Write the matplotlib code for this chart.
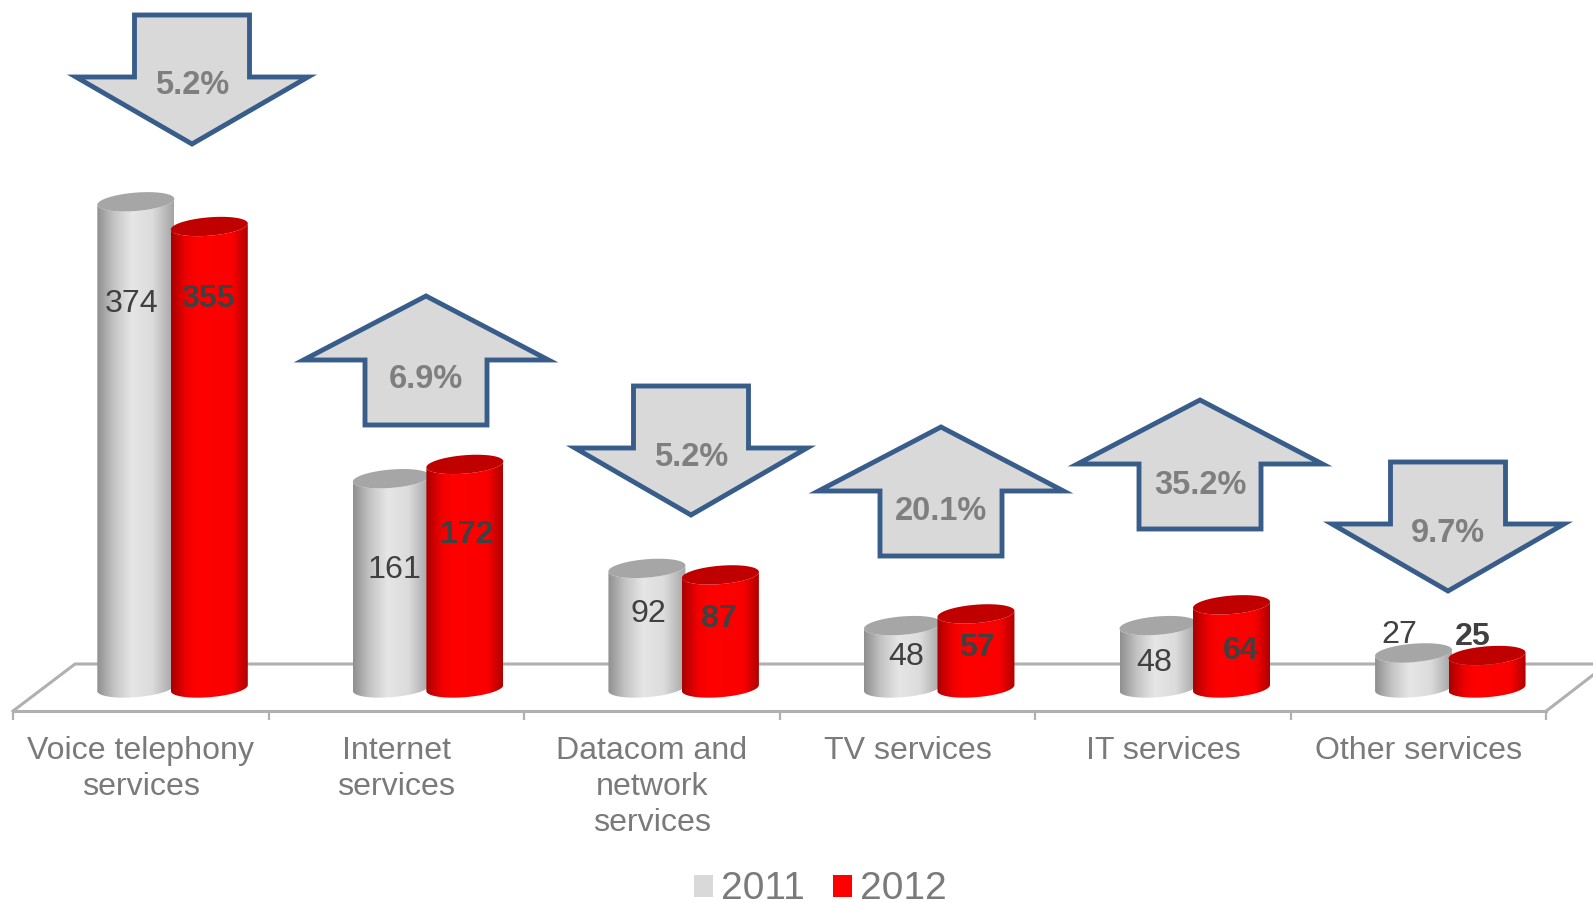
#!/usr/bin/env python3
"""Revenue by service, 2011 vs 2012: fake-3D cylinders with change arrows above them."""
import numpy as np
import matplotlib
matplotlib.use("Agg")
import matplotlib.pyplot as plt
from matplotlib.colors import LinearSegmentedColormap
from matplotlib.patches import Patch, PathPatch, Polygon
from matplotlib.path import Path

OUT = "out.png"
W, H = 1593, 902

categories = ["Voice telephony\nservices", "Internet\nservices", "Datacom and\nnetwork\nservices",
              "TV services", "IT services", "Other services"]
years = ["2011", "2012"]
values_2011 = [374, 161, 92, 48, 48, 27]
values_2012 = [355, 172, 87, 57, 64, 25]
changes = ["5.2%", "6.9%", "5.2%", "20.1%", "35.2%", "9.7%"]
directions = ["down", "up", "down", "up", "up", "down"]

# layout, in reference pixels
PX_PER_CAT = 255.55
PX_PER_UNIT = 1.3
CAT0_X = 140.8
BASE_Y = 688
FLOOR_Y = 711
BACK_Y = 664
HALF_W = 38.5
CAP_B, CAP_TILT = 9.2, 3
ARROW_CX = [192, 426, 691, 941, 1200, 1448]
ARROW_TOP = [15, 296, 386, 427, 400, 462]
ARROW_TXT_Y = [86, 380, 457, 511, 485, 533]
LABEL_XY_2011 = [(132, 304), (394, 570), (648, 614), (906, 657), (1154, 663), (1399, 635)]
LABEL_XY_2012 = [(208, 299), (467, 535), (719, 619), (977, 648), (1241, 651), (1473, 637)]

INK = "#404040"
TICK_INK = "#7a7a7a"
FLOOR = "#b0b0b0"
ARROW_FILL = "#d9d9d9"
ARROW_EDGE = "#385d8a"
GRAY = "#d9d9d9"
RED = "#ff0000"

plt.rcParams["font.family"] = ["Liberation Sans", "DejaVu Sans"]

gray_cm = LinearSegmentedColormap.from_list(
    "g", [(0, "#8f8f8f"), (0.22, "#c4c4c4"), (0.45, "#e6e6e6"), (0.72, "#dcdcdc"), (1, "#a4a4a4")])
red_cm = LinearSegmentedColormap.from_list(
    "r", [(0, "#a80000"), (0.2, "#f00000"), (0.35, "#ff0000"), (0.8, "#fa0000"), (1, "#b00000")])

fig = plt.figure(figsize=(W / 100, H / 100), dpi=100)

# data axes: x in category index, y in value units
ax = fig.add_axes([0, 0, 1, 1], facecolor="none", zorder=1)
# overlay in plain pixels for the annotations
px = fig.add_axes([0, 0, 1, 1], facecolor="none", zorder=2)
px.set_xlim(0, W)
px.set_ylim(H, 0)
px.axis("off")

xlim = (-CAT0_X / PX_PER_CAT, (W - CAT0_X) / PX_PER_CAT)
ylim = ((BASE_Y - H) / PX_PER_UNIT, BASE_Y / PX_PER_UNIT)


def cylinder(cat_x, value, base, cmap, cap):
    """cat_x in category units; base is a value-unit lift of the bottom ellipse."""
    a = HALF_W / PX_PER_CAT
    b = CAP_B / PX_PER_UNIT
    s = CAP_TILT / PX_PER_UNIT
    t = np.linspace(0, 2 * np.pi, 90)
    ex, ey = cat_x + a * np.cos(t), b * np.sin(t) + s * np.cos(t)
    lower = t >= np.pi
    # bottom half of the bottom ellipse, then back along the top of the cap
    bx, by = ex[lower], ey[lower] + base
    tx, ty = ex[lower][::-1], ey[lower][::-1] + value + base
    body = np.column_stack([np.r_[bx, tx], np.r_[by, ty]])
    patch = PathPatch(Path(body, closed=False), fc="none", ec="none", zorder=3)
    ax.add_patch(patch)
    im = ax.imshow(np.linspace(0, 1, 256)[None, :], cmap=cmap, aspect="auto", vmin=0, vmax=1,
                   extent=(cat_x - a, cat_x + a, base - b - s, value + base + b + s), zorder=3)
    im.set_clip_path(patch)
    ax.add_patch(Polygon(np.column_stack([ex, ey + value + base]), fc=cap, ec="none", zorder=3))


for i in range(len(categories)):
    cylinder(i - 5 / PX_PER_CAT, values_2011[i], 0, gray_cm, "#a6a6a6")
    cylinder(i + 68.5 / PX_PER_CAT, values_2012[i], 0, red_cm, "#c00000")

ax.set_xlim(*xlim)
ax.set_ylim(*ylim)

# floor: front edge and ticks come from the x axis, the rest is perspective
for side in ("top", "left", "right"):
    ax.spines[side].set_visible(False)
ax.spines["bottom"].set_position(("data", (BASE_Y - FLOOR_Y) / PX_PER_UNIT))
ax.spines["bottom"].set_bounds(-0.5, len(categories) - 0.5)
ax.spines["bottom"].set_color(FLOOR)
ax.spines["bottom"].set_linewidth(2.2)
ax.set_yticks([])
ax.set_xticks(np.arange(len(categories) + 1) - 0.5)
ax.set_xticklabels([])
ax.tick_params(axis="x", which="major", length=6.5, width=1.6, color=FLOOR, direction="out")
ax.set_xticks(np.arange(len(categories)), minor=True)
ax.set_xticklabels(categories, minor=True, fontsize=23.1, color=TICK_INK, linespacing=1.27)
ax.tick_params(axis="x", which="minor", length=0, pad=18)

right = CAT0_X + 5.5 * PX_PER_CAT
left = CAT0_X - 0.5 * PX_PER_CAT
ax.plot([left, left + 62, W], [FLOOR_Y, BACK_Y, BACK_Y], color=FLOOR, lw=2.2,
        transform=px.transData, zorder=1, clip_on=False, solid_joinstyle="miter")
ax.plot([right, W], [FLOOR_Y, 675], color=FLOOR, lw=2.2, transform=px.transData, zorder=1)


def arrow(cx, top, kind):
    if kind == "down":
        hw, sw, head, tall = 116, 57.5, 62, 129
        pts = [(cx - sw, top), (cx + sw, top), (cx + sw, top + head), (cx + hw, top + head),
               (cx, top + tall), (cx - hw, top + head), (cx - sw, top + head)]
    else:
        hw, sw, head, tall = 122.5, 61, 64, 129
        pts = [(cx, top), (cx + hw, top + head), (cx + sw, top + head), (cx + sw, top + tall),
               (cx - sw, top + tall), (cx - sw, top + head), (cx - hw, top + head)]
    px.add_patch(Polygon(pts, closed=True, fc=ARROW_FILL, ec=ARROW_EDGE, lw=3.5, joinstyle="miter"))


for cx, top, kind, label, ty in zip(ARROW_CX, ARROW_TOP, directions, changes, ARROW_TXT_Y):
    arrow(cx, top, kind)
    px.text(cx, ty, label, fontsize=23.5, fontweight="bold", color="#7f7f7f", ha="center", va="center")

for v, (x, y) in zip(values_2011, LABEL_XY_2011):
    px.text(x, y, str(v), fontsize=23.2, color=INK, ha="center", va="center")
for v, (x, y) in zip(values_2012, LABEL_XY_2012):
    px.text(x, y, str(v), fontsize=23.2, fontweight="bold", color=INK, ha="center", va="center")

handles = [Patch(fc=GRAY, ec="none"), Patch(fc=RED, ec="none")]
ax.legend(handles, years, ncol=2, loc="lower center", bbox_to_anchor=(0.515, -0.006), frameon=False,
          fontsize=28, labelcolor=TICK_INK, handlelength=0.49, handleheight=0.49,
          handletextpad=0.2, columnspacing=0.72, borderpad=0, borderaxespad=0)

fig.savefig(OUT, dpi=100, facecolor="white")
print(f"wrote {OUT}")
